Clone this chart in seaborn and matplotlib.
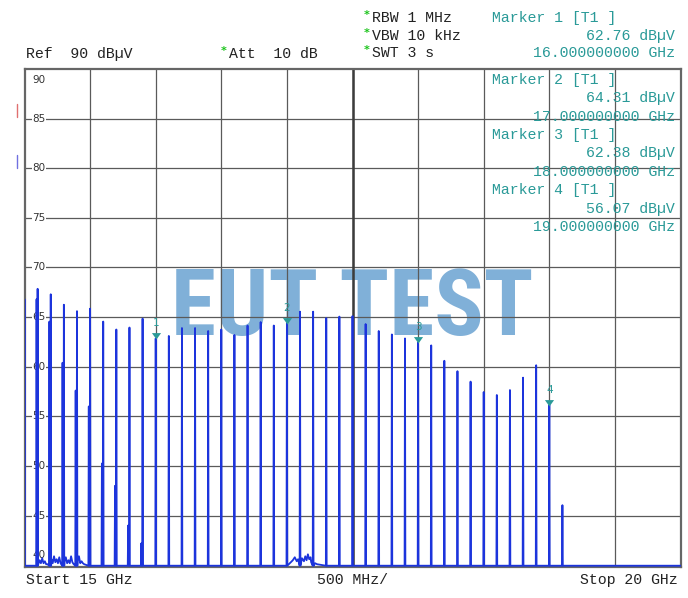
import numpy as np
import pandas as pd
import matplotlib.pyplot as plt
import seaborn as sns
from matplotlib import font_manager
from matplotlib.lines import Line2D
from matplotlib.markers import MarkerStyle
from matplotlib.path import Path

# harmonic comb, 100 MHz spacing (GHz, dBuV)
harm_freq = [15.0, 15.1, 15.2, 15.3, 15.4, 15.5, 15.6, 15.7, 15.8, 15.9,
             16.0, 16.1, 16.2, 16.3, 16.4, 16.5, 16.6, 16.7, 16.8, 16.9,
             17.0, 17.1, 17.2, 17.3, 17.4, 17.5, 17.6, 17.7, 17.8, 17.9,
             18.0, 18.1, 18.2, 18.3, 18.4, 18.5, 18.6, 18.7, 18.8, 18.9,
             19.0, 19.1]
harm_level = [66.8, 67.85, 67.3, 66.25, 65.6, 65.85, 64.55, 63.75, 63.95, 64.85,
              62.85, 63.1, 63.9, 63.9, 63.6, 63.75, 63.2, 64.15, 64.5, 64.15,
              64.4, 65.55, 65.55, 64.9, 65.05, 65.1, 64.3, 63.6, 63.25, 62.85,
              62.45, 62.15, 60.6, 59.55, 58.5, 57.45, 57.15, 57.65, 58.9, 60.15,
              56.15, 46.05]

# weaker spurs just below the first harmonics
spur_freq = [15.092, 15.19, 15.29, 15.39, 15.49, 15.59, 15.69, 15.79, 15.89]
spur_level = [66.8, 64.55, 60.4, 57.6, 56.0, 50.25, 48.0, 44.0, 42.2]

# noise bumps on the floor
noise_a_freq = [15.105, 15.115, 15.125, 15.135, 15.145, 15.155, 15.165, 15.175,
                15.205, 15.215, 15.225, 15.235, 15.245, 15.255, 15.265, 15.275,
                15.305, 15.315, 15.325, 15.335, 15.345, 15.355, 15.365, 15.375,
                15.405, 15.415, 15.425, 15.435, 15.445, 15.455]
noise_a_level = [40.1, 40.5, 40.2, 40.7, 40.2, 40.4, 40.1, 40.1,
                 40.6, 40.2, 40.9, 40.3, 40.6, 40.2, 40.8, 40.2,
                 40.4, 40.8, 40.2, 40.5, 40.2, 40.9, 40.3, 40.1,
                 40.6, 40.9, 40.2, 40.4, 40.2, 40.1]
noise_b_freq = [17.015, 17.03, 17.045, 17.06, 17.075, 17.085, 17.115, 17.13,
                17.14, 17.15, 17.16, 17.17, 17.18, 17.185, 17.215, 17.23]
noise_b_level = [40.1, 40.3, 40.5, 40.8, 40.4, 40.6, 40.7, 40.4,
                 40.9, 40.5, 41.1, 40.6, 40.8, 40.3, 40.2, 40.1]

FLOOR = 39.95

marker_id = [1, 2, 3, 4]
marker_freq = [16.0, 17.0, 18.0, 19.0]
marker_level = [62.76, 64.31, 62.38, 56.07]
marker_freq_txt = ['16.000000000 GHz', '17.000000000 GHz', '18.000000000 GHz', '19.000000000 GHz']

y_labels = [90, 85, 80, 75, 70, 65, 60, 55, 50, 45, 40]

BLUE = '#1c34dc'
TEAL = '#2a9a98'
GREEN = '#19c319'
MONO = 'Liberation Mono'

# build the trace: each line is a thin spike rising from the floor
hw = 0.003
rows = [(15.0 - hw, FLOOR), (20.0, FLOOR)]
for f, v in zip(harm_freq + spur_freq, harm_level + spur_level):
    rows += [(f - hw, FLOOR), (f, v), (f + hw, FLOOR)]
rows += list(zip(noise_a_freq, noise_a_level)) + list(zip(noise_b_freq, noise_b_level))
trace = pd.DataFrame(rows, columns=['freq', 'level'])

sns.set_style('white')
plt.rcParams['font.family'] = ['DejaVu Sans']

W, H = 688, 598
fig = plt.figure(figsize=(W / 100, H / 100), dpi=100)
ax = fig.add_axes([24.5 / W, 1 - 566.7 / H, 656 / W, 497.7 / H])

sns.lineplot(data=trace, x='freq', y='level', estimator=None, sort=True,
             color=BLUE, lw=1.3, ax=ax, zorder=3)

# marker triangles, tip sitting on the trace
tri = MarkerStyle(Path([(0, 0), (-1.0, 1.4), (1.0, 1.4), (0, 0)]))
sns.scatterplot(x=marker_freq, y=marker_level, marker=tri, s=85, color=TEAL,
                linewidth=0, ax=ax, zorder=5)
for i, f, v in zip(marker_id, marker_freq, marker_level):
    ax.annotate(str(i), (f, v), xytext=(0, 9.5), textcoords='offset points',
                ha='center', va='baseline', fontsize=7.5, color=TEAL, zorder=5)

ax.set_xlim(15.0, 20.0)
ax.set_ylim(39.85, 90)
ax.set_xticks([15.5, 16.0, 16.5, 17.0, 17.5, 18.0, 18.5, 19.0, 19.5])
ax.set_yticks([45, 50, 55, 60, 65, 70, 75, 80, 85])
ax.grid(True, color='#5a5a5a', lw=0.9)
ax.axvline(17.5, color='#3c3c3c', lw=1.8, zorder=0.6)
ax.tick_params(length=0, labelbottom=False, labelleft=False)
ax.set_xlabel('')
ax.set_ylabel('')
for s in ax.spines.values():
    s.set_color('#666666')
    s.set_linewidth(1.6)

# level labels inside the plot
for v in y_labels:
    dy = -11 if v == 90 else (10.5 if v == 40 else 0)
    ax.annotate(str(v), xy=(0.0115, v), xycoords=('axes fraction', 'data'),
                xytext=(0, dy), textcoords='offset pixels', ha='left', va='center',
                fontsize=7.5, color='#333333', zorder=1,
                bbox=dict(boxstyle='square,pad=0.05', fc='white', ec='none'))

# watermark
names = {f.name for f in font_manager.fontManager.ttflist}
wm_font = 'Liberation Sans'
for cand in ['Liberation Sans Narrow', 'Roboto Condensed', 'DejaVu Sans Condensed']:
    if cand in names:
        wm_font = cand
        break
ax.text((352 - 24.5) / 656, (566.7 - 335) / 497.7, 'EUT TEST', transform=ax.transAxes,
        ha='center', va='baseline', fontsize=66, fontweight='bold',
        family=wm_font, color='#80b0d8', zorder=0.2)


def ftxt(x, y, s, **kw):
    kw.setdefault('va', 'center')
    kw.setdefault('family', MONO)
    kw.setdefault('fontsize', 10.7)
    fig.text(x / W, 1 - y / H, s, **kw)


def star(x, y):
    ftxt(x, y, '*', color=GREEN, fontsize=8, family='DejaVu Sans', fontweight='bold')


# header
ftxt(26, 54, 'Ref  90 dBµV', color='#222222')
star(221, 51)
ftxt(229, 54, 'Att  10 dB', color='#222222')
star(364, 15)
ftxt(372, 18, 'RBW 1 MHz', color='#222222')
star(364, 33)
ftxt(372, 36, 'VBW 10 kHz', color='#222222')
star(364, 50)
ftxt(372, 53, 'SWT 3 s', color='#222222')

ftxt(491.5, 18, 'Marker 1 [T1 ]', color=TEAL)
ftxt(675, 36, f'{marker_level[0]:.2f} dBµV', color=TEAL, ha='right')
ftxt(675, 53, marker_freq_txt[0], color=TEAL, ha='right')

for k in range(1, 4):
    y0 = 80 + (k - 1) * 55
    ftxt(491.5, y0, f'Marker {marker_id[k]} [T1 ]', color=TEAL)
    ftxt(675, y0 + 18.5, f'{marker_level[k]:.2f} dBµV', color=TEAL, ha='right')
    ftxt(675, y0 + 37, marker_freq_txt[k], color=TEAL, ha='right')

# footer
ftxt(26, 580, 'Start 15 GHz', color='#222222')
ftxt(352.5, 580, '500 MHz/', color='#222222', ha='center')
ftxt(678, 580, 'Stop 20 GHz', color='#222222', ha='right')

# small reference indicators left of the frame
fig.add_artist(Line2D([17 / W, 17 / W], [1 - 104 / H, 1 - 117 / H], color='#e07070', lw=1))
fig.add_artist(Line2D([17 / W, 17 / W], [1 - 155 / H, 1 - 168 / H], color='#7070e0', lw=1))

fig.savefig('out.png', dpi=100)
